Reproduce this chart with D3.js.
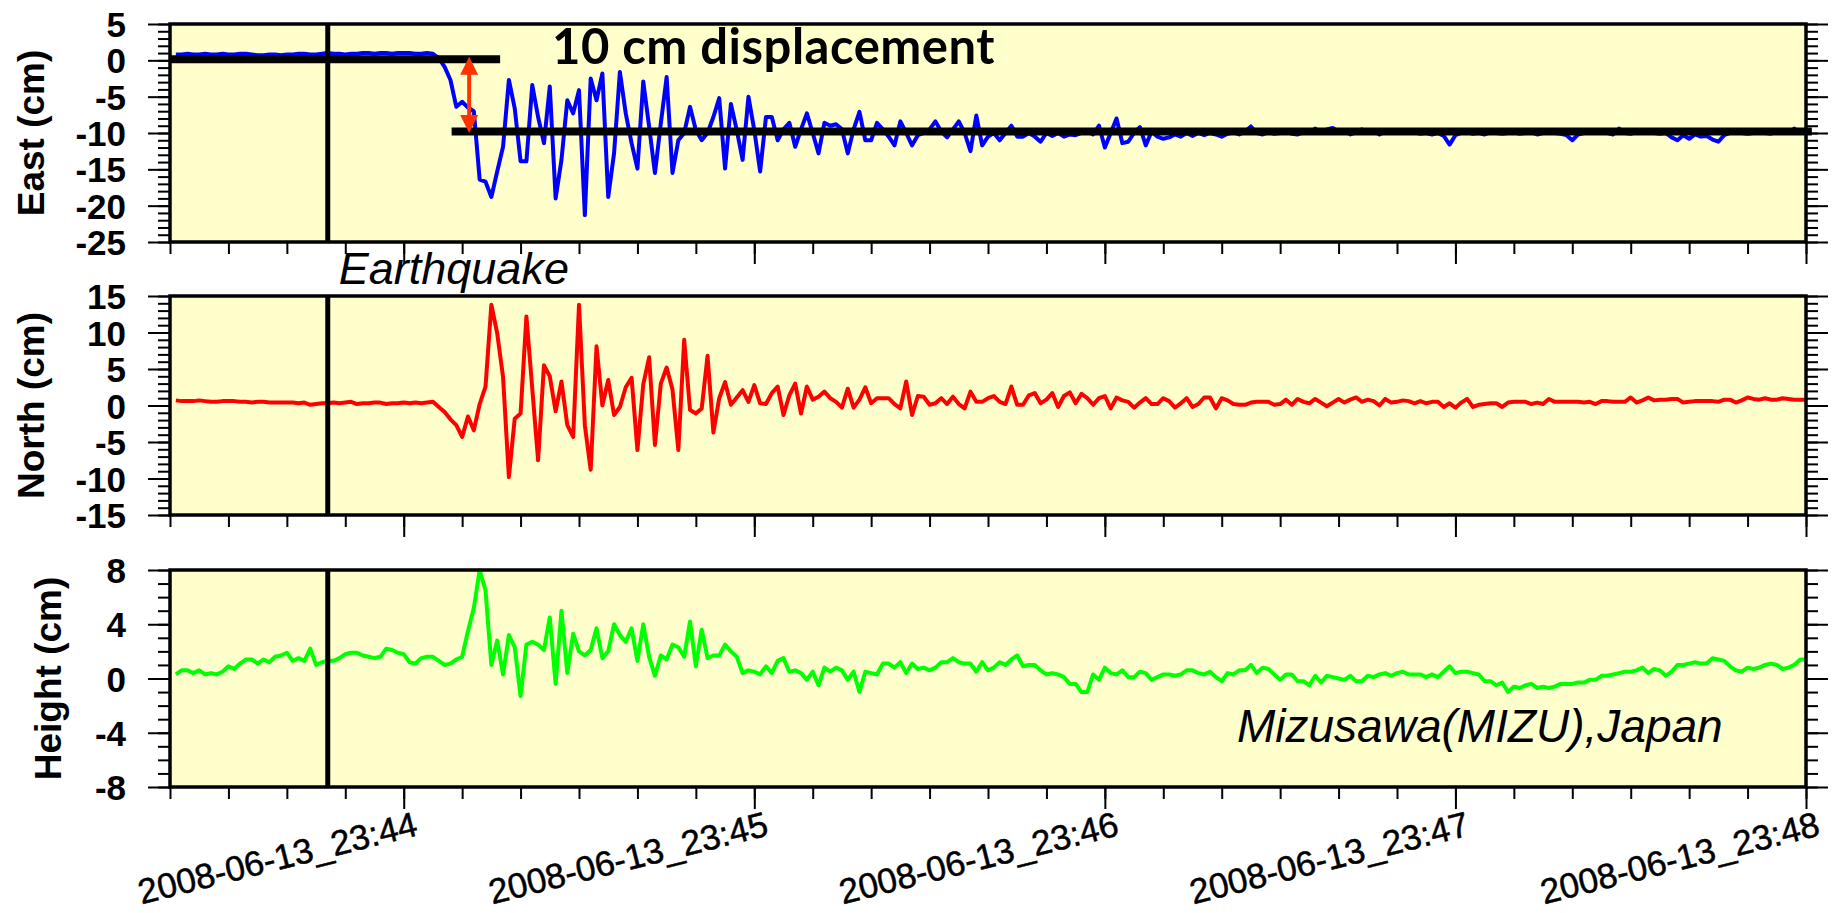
<!DOCTYPE html>
<html>
<head>
<meta charset="utf-8">
<script src="https://cdn.jsdelivr.net/npm/d3@7"></script>
<style>
  body { margin: 0; background: #fff; }
  svg { display: block; }
</style>
</head>
<body>
<svg id="chart"></svg>
<script>
// 1 Hz GPS positions, first sample at 23:43:21
const firstSample = new Date(2008, 5, 13, 23, 43, 21)

const eastCm = [
  0.8, 0.8, 0.9, 0.8, 0.8, 0.9, 0.8, 0.8, 0.9, 0.8,
  0.8, 0.9, 0.9, 0.8, 0.7, 0.7, 0.8, 0.8, 0.7, 0.8,
  0.8, 0.9, 0.9, 0.8, 0.8, 0.9, 1.0, 0.9, 0.9, 0.8,
  0.9, 0.9, 1.0, 1.0, 0.9, 1.0, 1.0, 0.9, 1.0, 1.0,
  1.0, 0.9, 0.9, 1.0, 0.9, 0.3, -0.9, -2.7, -6.4, -5.7,
  -6.5, -7.0, -16.4, -16.7, -18.8, -15.3, -11.9, -2.7, -6.6, -13.9,
  -13.9, -3.4, -7.8, -11.4, -3.6, -19.0, -13.7, -5.5, -7.3, -4.1,
  -21.3, -2.5, -5.5, -1.8, -18.8, -12.8, -1.6, -7.3, -11.4, -14.9,
  -2.9, -9.1, -15.5, -8.7, -2.3, -15.5, -11.0, -10.0, -6.4, -9.6,
  -11.0, -10.0, -7.8, -5.2, -14.9, -6.0, -9.6, -13.7, -5.0, -9.6,
  -15.3, -7.8, -7.8, -11.0, -9.5, -8.6, -11.9, -9.5, -7.3, -10.0,
  -12.8, -8.6, -9.0, -8.8, -9.5, -12.8, -9.5, -7.1, -11.0, -11.0,
  -8.6, -9.5, -10.5, -11.7, -8.4, -10.0, -11.7, -10.3, -10.0, -9.5,
  -8.4, -9.8, -10.6, -9.5, -8.4, -10.0, -12.5, -7.6, -11.7, -10.5,
  -10.0, -11.0, -10.0, -9.0, -10.5, -10.5, -10.0, -10.5, -11.2, -10.0,
  -10.4, -10.0, -10.5, -10.2, -10.3, -10.0, -9.8, -10.2, -9.0, -12.0,
  -10.0, -8.0, -11.4, -11.2, -10.0, -9.2, -11.7, -9.8, -10.5, -10.8,
  -10.6, -10.2, -10.5, -10.0, -10.4, -10.0, -10.3, -10.0, -10.2, -10.5,
  -10.1, -9.9, -10.2, -9.8, -9.1, -10.0, -10.2, -9.9, -10.1, -10.0,
  -9.6, -10.1, -10.2, -9.9, -10.0, -9.4, -10.0, -9.5, -9.3, -9.8,
  -9.6, -10.2, -9.9, -9.5, -10.0, -9.7, -10.2, -9.8, -9.9, -9.6,
  -10.0, -9.7, -9.9, -10.1, -10.0, -10.2, -10.0, -10.4, -11.6, -10.3,
  -10.0, -9.9, -10.1, -10.0, -10.2, -9.9, -10.0, -10.1, -10.0, -9.9,
  -10.1, -10.0, -9.9, -10.2, -10.0, -9.8, -10.0, -10.1, -10.3, -11.0,
  -10.2, -10.0, -9.9, -10.0, -9.6, -10.0, -10.2, -9.4, -10.0, -10.1,
  -9.9, -10.0, -9.7, -10.0, -10.1, -10.0, -10.6, -11.0, -10.3, -10.8,
  -10.2, -10.5, -10.4, -10.9, -11.2, -10.3, -10.0, -9.8, -10.0, -10.1,
  -10.0, -9.9, -10.0, -10.1, -9.8, -9.9, -10.0, -9.4, -10.0, -9.8
]

const northCm = [
  0.7, 0.6, 0.6, 0.6, 0.7, 0.6, 0.5, 0.5, 0.6, 0.6,
  0.6, 0.5, 0.5, 0.4, 0.5, 0.5, 0.4, 0.4, 0.4, 0.4,
  0.4, 0.3, 0.4, 0.1, 0.2, 0.3, 0.3, 0.4, 0.3, 0.4,
  0.5, 0.2, 0.3, 0.3, 0.4, 0.4, 0.2, 0.3, 0.3, 0.4,
  0.3, 0.4, 0.3, 0.4, 0.5, -0.2, -0.9, -1.9, -2.7, -4.3,
  -1.5, -3.4, 0.2, 2.6, 13.8, 9.9, 3.9, -9.8, -1.8, -1.1,
  12.2, 2.3, -7.5, 5.5, 4.0, -0.8, 3.3, -2.7, -4.3, 13.8,
  -2.7, -8.8, 8.1, 0.0, 3.5, -1.3, -0.2, 2.5, 3.8, -6.1,
  2.9, 6.6, -5.4, 3.0, 5.2, 2.2, -6.1, 9.0, -0.6, -1.1,
  -0.4, 6.8, -3.7, 1.0, 3.2, 0.1, 1.1, 2.1, 0.5, 2.8,
  0.3, 0.2, 1.7, 2.6, -1.3, 1.4, 3.0, -1.1, 2.6, 0.8,
  1.2, 1.9, 1.0, 0.5, -0.3, 2.3, -0.3, 0.8, 2.5, 0.3,
  1.0, 1.0, 1.0, 0.2, -0.4, 3.3, -1.3, 1.3, 1.2, 0.1,
  0.3, 1.0, 0.2, 1.2, 0.2, -0.4, 1.9, 0.5, 0.5, 1.0,
  1.3, 0.5, 0.2, 2.6, 0.1, 0.1, 1.4, 1.7, 0.3, 0.8,
  1.7, -0.2, 1.3, 1.8, 0.3, 1.6, 1.0, 0.1, 1.0, 1.3,
  -0.4, 1.1, 0.7, 0.5, -0.3, 0.4, 1.0, 0.2, 0.2, 1.0,
  0.6, -0.3, 0.3, 1.0, -0.2, 0.2, 1.1, 1.1, -0.4, 1.0,
  0.7, 0.2, 0.1, 0.1, 0.4, 0.5, 0.5, 0.5, 0.1, 0.2,
  0.8, 0.1, 0.9, 0.5, 0.3, 0.9, 0.4, -0.1, 0.4, 0.9,
  0.4, 0.8, 1.1, 0.5, 0.8, 0.6, 0.0, 0.9, 0.4, 0.5,
  0.7, 0.6, 0.3, 0.6, 0.3, 0.5, 0.5, -0.2, 0.3, -0.3,
  0.4, 0.9, -0.2, 0.1, 0.2, 0.3, 0.3, -0.2, 0.4, 0.5,
  0.5, 0.5, 0.2, 0.4, 0.2, 0.9, 0.5, 0.5, 0.5, 0.5,
  0.5, 0.4, 0.5, 0.2, 0.6, 0.6, 0.5, 0.5, 0.5, 1.1,
  0.4, 0.7, 1.1, 0.7, 0.8, 0.8, 0.9, 0.9, 0.4, 0.5,
  0.6, 0.6, 0.6, 0.6, 0.5, 0.8, 0.8, 0.4, 0.7, 1.1,
  0.9, 0.8, 1.0, 0.8, 0.8, 1.0, 0.9, 0.8, 0.8, 0.8
]

const heightCm = [
  0.3, 0.6, 0.6, 0.4, 0.6, 0.3, 0.4, 0.3, 0.5, 0.9,
  0.7, 1.1, 1.4, 1.4, 1.1, 1.4, 1.2, 1.6, 1.7, 1.9,
  1.3, 1.5, 1.3, 2.2, 1.0, 1.2, 1.3, 1.3, 1.5, 1.8,
  1.9, 1.9, 1.7, 1.6, 1.5, 1.6, 2.2, 2.1, 1.9, 1.8,
  1.2, 1.1, 1.5, 1.6, 1.6, 1.3, 1.0, 1.1, 1.4, 1.6,
  3.5, 5.2, 8.0, 6.5, 1.0, 2.8, 0.3, 3.2, 2.3, -1.3,
  2.5, 2.7, 2.5, 2.1, 4.5, -0.4, 5.0, 0.4, 3.3, 2.0,
  1.7, 2.1, 3.7, 1.5, 2.0, 4.0, 3.2, 2.7, 3.7, 1.3,
  4.0, 1.6, 0.2, 1.7, 1.4, 2.5, 2.3, 1.6, 4.2, 0.9,
  3.6, 1.5, 1.7, 1.7, 2.5, 2.0, 1.6, 0.4, 0.6, 0.5,
  0.3, 0.9, 0.4, 1.3, 1.5, 0.5, 0.6, 0.4, -0.1, 0.5,
  -0.5, 0.8, 0.5, 0.8, 0.6, -0.1, 0.5, -1.0, 0.5, 0.4,
  0.3, 1.1, 1.1, 0.8, 1.2, 0.4, 1.1, 0.7, 0.8, 0.6,
  0.8, 1.2, 1.2, 1.5, 1.2, 1.1, 1.1, 0.5, 1.2, 0.6,
  0.8, 1.2, 1.0, 1.4, 1.7, 0.9, 1.0, 1.0, 0.6, 0.3,
  0.4, 0.3, 0.1, -0.4, -0.4, -1.0, -1.0, 0.3, -0.1, 0.8,
  0.4, 0.3, 0.6, 0.1, 0.1, 0.5, 0.4, -0.1, 0.1, 0.3,
  0.3, 0.2, 0.3, 0.6, 0.6, 0.4, 0.3, 0.5, 0.1, -0.2,
  0.4, 0.3, 0.6, 0.6, 1.0, 0.4, 0.8, 0.7, 0.3, -0.1,
  0.3, 0.3, -0.2, -0.2, -0.5, 0.2, -0.3, 0.2, 0.1, 0.0,
  -0.1, 0.2, -0.2, -0.2, 0.2, 0.1, 0.3, 0.4, 0.2, 0.4,
  0.5, 0.3, 0.3, 0.3, 0.1, 0.3, 0.1, 0.5, 0.9, 0.4,
  0.5, 0.5, 0.4, 0.3, -0.2, -0.2, -0.5, -0.3, -1.0, -0.6,
  -0.7, -0.5, -0.4, -0.7, -0.6, -0.7, -0.6, -0.4, -0.4, -0.4,
  -0.3, -0.3, -0.1, -0.1, 0.2, 0.2, 0.3, 0.4, 0.5, 0.5,
  0.6, 0.8, 0.4, 0.7, 0.6, 0.2, 0.5, 1.0, 1.0, 1.1,
  1.2, 1.1, 1.1, 1.5, 1.4, 1.3, 0.9, 0.6, 0.5, 0.8,
  0.7, 0.8, 1.0, 1.1, 1.0, 0.7, 0.8, 1.0, 1.4, 1.4
]

const panelTitles = ['East (cm)', 'North (cm)', 'Height (cm)']
const panelDomains = [[-25, 5], [-15, 15], [-8, 8]]
const panelTickValues = [
  [-25, -20, -15, -10, -5, 0, 5],
  [-15, -10, -5, 0, 5, 10, 15],
  [-8, -4, 0, 4, 8]
]
const panelColors = ['#0000ff', '#ff0000', '#00ff00']

const timeDomain = [new Date(2008, 5, 13, 23, 43, 20), new Date(2008, 5, 13, 23, 48, 0)]
const quakeTime = new Date(2008, 5, 13, 23, 43, 47)

// before / after levels of the 10 cm offset (East)
const offsetLevels = [0.15, -9.8]
const offsetStarts = [new Date(2008, 5, 13, 23, 43, 20), new Date(2008, 5, 13, 23, 44, 8, 200)]
const offsetEnds = [new Date(2008, 5, 13, 23, 44, 16, 500), new Date(2008, 5, 13, 23, 48, 1)]
const arrowTime = new Date(2008, 5, 13, 23, 44, 11, 200)
const arrowLevels = [0.5, -10.0]

const width = 1836
const height = 913
const left = 170
const right = 1806
const panelTop = [24, 296, 570]
const panelBottom = [242, 515, 787]
const titleX = [44, 44, 61]

const series = [eastCm, northCm, heightCm]
const sampleTimes = eastCm.map((d, i) => d3.timeSecond.offset(firstSample, i))

const svg = d3.select('#chart')
  .attr('width', width)
  .attr('height', height)
  .style('background-color', '#fff')

const x = d3.scaleTime()
  .domain(timeDomain)
  .range([left, right])

const minorTimes = x.ticks(d3.timeSecond.every(10))
const majorTimes = x.ticks(d3.timeMinute.every(1))

const styleTicks = g => {
  g.select('.domain').remove()
  g.selectAll('.tick line').attr('stroke', '#000').attr('stroke-width', 2)
}

panelTitles.forEach((title, i) => {
  const top = panelTop[i]
  const bottom = panelBottom[i]
  const [lo, hi] = panelDomains[i]

  const y = d3.scaleLinear()
    .domain(panelDomains[i])
    .range([bottom, top])

  const g = svg.append('g')

  // yellow plot area
  g.append('rect')
    .attr('x', left)
    .attr('y', top)
    .attr('width', right - left)
    .attr('height', bottom - top)
    .attr('fill', '#ffffcc')

  g.append('clipPath')
    .attr('id', 'clip' + i)
    .append('rect')
    .attr('x', left)
    .attr('y', top - 2)
    .attr('width', right - left)
    .attr('height', bottom - top + 4)

  const line = d3.line()
    .x((d, j) => x(sampleTimes[j]))
    .y(d => y(d))

  g.append('path')
    .datum(series[i])
    .attr('d', line)
    .attr('fill', 'none')
    .attr('stroke', panelColors[i])
    .attr('stroke-width', 4)
    .attr('stroke-linejoin', 'round')
    .attr('clip-path', `url(#clip${i})`)

  // earthquake origin time
  g.append('line')
    .attr('x1', x(quakeTime))
    .attr('x2', x(quakeTime))
    .attr('y1', top)
    .attr('y2', bottom)
    .attr('stroke', '#000')
    .attr('stroke-width', 5)

  if (i === 0) {
    g.selectAll('.offset')
      .data(offsetLevels)
      .join('line')
      .attr('x1', (d, k) => x(offsetStarts[k]))
      .attr('x2', (d, k) => x(offsetEnds[k]))
      .attr('y1', d => y(d))
      .attr('y2', d => y(d))
      .attr('stroke', '#000')
      .attr('stroke-width', 8)

    const ax = x(arrowTime)
    const a0 = y(arrowLevels[0])
    const a1 = y(arrowLevels[1])
    g.append('line')
      .attr('x1', ax).attr('x2', ax)
      .attr('y1', a0 + 14).attr('y2', a1 - 14)
      .attr('stroke', '#ff3300')
      .attr('stroke-width', 4)
    g.append('path')
      .attr('d', `M${ax},${a0}L${ax - 9},${a0 + 18}L${ax + 9},${a0 + 18}Z` +
                 `M${ax},${a1}L${ax - 9},${a1 - 18}L${ax + 9},${a1 - 18}Z`)
      .attr('fill', '#ff3300')
  }

  // frame
  g.append('rect')
    .attr('x', left)
    .attr('y', top)
    .attr('width', right - left)
    .attr('height', bottom - top)
    .attr('fill', 'none')
    .attr('stroke', '#000')
    .attr('stroke-width', 3.5)

  // y axis, minor every 1 cm
  const minorY = d3.range(lo, hi + 1, 1)
  g.append('g')
    .attr('transform', `translate(${left},0)`)
    .call(d3.axisLeft(y).tickValues(minorY).tickSize(12).tickFormat(''))
    .call(styleTicks)
  g.append('g')
    .attr('transform', `translate(${right},0)`)
    .call(d3.axisRight(y).tickValues(minorY).tickSize(12).tickFormat(''))
    .call(styleTicks)
  g.append('g')
    .attr('transform', `translate(${right},0)`)
    .call(d3.axisRight(y).tickValues(panelTickValues[i]).tickSize(22).tickFormat(''))
    .call(styleTicks)
  g.append('g')
    .attr('transform', `translate(${left},0)`)
    .call(d3.axisLeft(y).tickValues(panelTickValues[i]).tickSize(22).tickPadding(22)
      .tickFormat(d => String(d)))
    .call(styleTicks)
    .call(a => a.selectAll('text')
      .attr('fill', '#000')
      .attr('dy', '0.36em')
      .style('font', 'bold 35px "Liberation Sans", Arial, sans-serif'))

  // time axis
  g.append('g')
    .attr('transform', `translate(0,${bottom})`)
    .call(d3.axisBottom(x).tickValues(minorTimes).tickSize(12).tickFormat(''))
    .call(styleTicks)
  const xMajor = g.append('g')
    .attr('transform', `translate(0,${bottom})`)
    .call(d3.axisBottom(x).tickValues(majorTimes).tickSize(22)
      .tickFormat(d3.timeFormat('%Y-%m-%d_%H:%M')))
    .call(styleTicks)
  if (i === 2) {
    xMajor.selectAll('text')
      .attr('fill', '#000')
      .attr('stroke', '#000')
      .attr('stroke-width', 0.5)
      .attr('x', 0)
      .attr('y', 0)
      .attr('dy', 0)
      .attr('text-anchor', 'end')
      .attr('transform', 'translate(15,48) rotate(-14)')
      .style('font', '35px "Liberation Sans", Arial, sans-serif')
  } else {
    xMajor.selectAll('text').remove()
  }

  // axis title
  svg.append('text')
    .attr('transform', `translate(${titleX[i]},${(top + bottom) / 2}) rotate(-90)`)
    .attr('text-anchor', 'middle')
    .style('font', 'bold 37px "Liberation Sans", Arial, sans-serif')
    .text(title)
})

svg.append('text')
  .attr('x', x(quakeTime) + 11)
  .attr('y', 284)
  .style('font', 'italic 45px "Liberation Sans", Arial, sans-serif')
  .text('Earthquake')

svg.append('text')
  .attr('x', 552)
  .attr('y', 64)
  .style('font', 'bold 49px Lato, "Open Sans", sans-serif')
  .style('letter-spacing', '0.5px')
  .text('10 cm displacement')

svg.append('text')
  .attr('x', 1237)
  .attr('y', 742)
  .style('font', 'italic 46px "Liberation Sans", Arial, sans-serif')
  .text('Mizusawa(MIZU),Japan')
</script>
</body>
</html>
